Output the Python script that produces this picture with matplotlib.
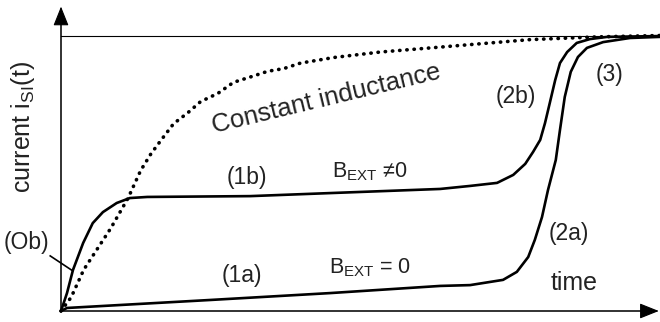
import matplotlib
matplotlib.use("Agg")
import matplotlib.pyplot as plt

plt.rcParams['font.family'] = ['Liberation Sans', 'DejaVu Sans']
plt.rcParams['mathtext.fontset'] = 'custom'
plt.rcParams['mathtext.rm'] = 'Liberation Sans'
plt.rcParams['mathtext.it'] = 'Liberation Sans'

# constant inductance (dotted)
t_const = [0, 0.17, 0.38, 0.62, 0.83, 1.12, 1.33, 1.50, 1.67, 1.88, 2.12, 2.33, 2.62, 2.88,
           3.17, 3.45, 3.72, 4.0, 4.28, 4.55, 5.33, 6.17, 7.0, 7.83, 8.95, 10]
i_const = [0, 0.05, 0.15, 0.23, 0.30, 0.41, 0.51, 0.57, 0.62, 0.68, 0.72, 0.76, 0.79, 0.83,
           0.85, 0.87, 0.88, 0.90, 0.91, 0.92, 0.94, 0.955, 0.97, 0.985, 0.995, 1.0]

# B_EXT != 0
t_b = [0, 0.1, 0.2, 0.37, 0.53, 0.70, 0.93, 1.15, 1.44, 3.16, 4.49, 6.33, 6.83, 7.28, 7.55,
       7.75, 7.88, 8.0, 8.08, 8.16, 8.25, 8.33, 8.45, 8.61, 8.83, 9.12, 10]
i_b = [0, 0.065, 0.149, 0.247, 0.319, 0.359, 0.392, 0.410, 0.414, 0.417, 0.428, 0.443, 0.454,
       0.465, 0.494, 0.534, 0.577, 0.621, 0.682, 0.755, 0.838, 0.900, 0.940, 0.973, 0.987,
       0.995, 0.998]

# B_EXT = 0
t_a = [0, 0.1, 2.49, 4.49, 6.33, 6.83, 7.38, 7.61, 7.80, 7.91, 8.03, 8.13, 8.26, 8.33, 8.41,
       8.51, 8.63, 8.78, 9.05, 9.50, 10]
i_a = [0, 0.011, 0.04, 0.065, 0.091, 0.094, 0.113, 0.142, 0.196, 0.258, 0.341, 0.439, 0.548,
       0.657, 0.777, 0.868, 0.922, 0.955, 0.976, 0.991, 0.995]

fig = plt.figure(figsize=(6.6, 3.22), dpi=100)
ax = fig.add_axes([61 / 660, 11 / 322, 599 / 660, 275.5 / 322])
ax.set_xlim(0, 10)
ax.set_ylim(0, 1)
ax.set_xticks([])
ax.set_yticks([])
for s in ['left', 'bottom', 'right']:
    ax.spines[s].set_visible(False)
ax.spines['top'].set_linewidth(0.8)
ax.spines['top'].set_color('black')

# axes with arrows
arrow = dict(arrowstyle='-|>,head_length=1.0,head_width=0.4', mutation_scale=12,
             color='black', lw=0.8, shrinkA=0, shrinkB=0)
ax.annotate('', xy=(0, 1.105), xytext=(0, 0), xycoords='axes fraction', arrowprops=arrow)
ax.annotate('', xy=(0.998, 0), xytext=(0, 0), xycoords='axes fraction', arrowprops=arrow)
ax.plot([0, 0], [0, 1.04], transform=ax.transAxes, color='#707070', lw=1.3, clip_on=False)
ax.plot([0, 0.97], [0, 0], transform=ax.transAxes, color='#707070', lw=1.3, clip_on=False)

ax.plot(t_const, i_const, color='black', lw=2.6, linestyle=(0, (0.1, 1.9)),
        dash_capstyle='round', clip_on=False)
ax.plot(t_b, i_b, color='black', lw=1.9, solid_joinstyle='round', clip_on=False)
ax.plot(t_a, i_a, color='black', lw=1.9, solid_joinstyle='round', clip_on=False)

# leader for (Ob)
ax.plot([-0.18, 0.18], [0.2, 0.148], color='black', lw=1.2, clip_on=False)

big = 18.5
lab = 16.5
txt = '#222222'
ax.text(-0.63, 0.668, r'current i$_{\mathrm{SI}}$(t)', rotation=90, fontsize=18,
        ha='center', va='center', color=txt)
ax.text(4.45, 0.744, 'Constant inductance', rotation=13.5, rotation_mode='anchor',
        fontsize=big, ha='center', va='baseline', color=txt)
ax.text(3.1, 0.486, '(1b)', fontsize=lab, ha='center', va='center', color=txt)
ax.text(4.52, 0.486, r'B$_{\mathrm{EXT}}$ ≠0', fontsize=15.5, ha='left', va='baseline',
        color=txt)
ax.text(3.02, 0.13, '(1a)', fontsize=lab, ha='center', va='center', color=txt)
ax.text(4.48, 0.138, r'B$_{\mathrm{EXT}}$ = 0', fontsize=15.5, ha='left', va='baseline',
        color=txt)
ax.text(7.6, 0.777, '(2b)', fontsize=lab, ha='center', va='center', color=txt)
ax.text(8.48, 0.283, '(2a)', fontsize=lab, ha='center', va='center', color=txt)
ax.text(9.15, 0.857, '(3)', fontsize=lab, ha='center', va='center', color=txt)
ax.text(8.57, 0.076, 'time', fontsize=18, ha='center', va='baseline', color=txt)
ax.text(-0.57, 0.25, '(Ob)', fontsize=lab, ha='center', va='center', color=txt)

fig.savefig('out.png', dpi=100)
